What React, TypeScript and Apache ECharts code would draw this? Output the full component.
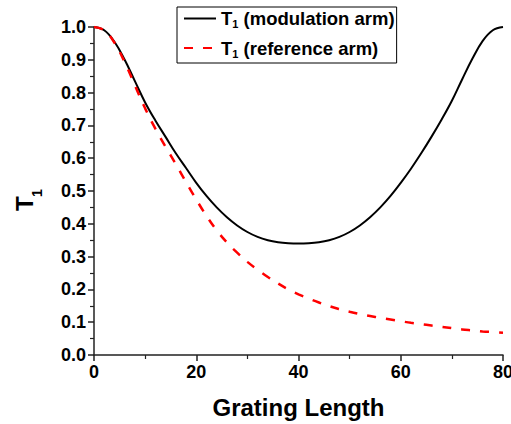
import React, { useEffect, useRef } from 'react';
import * as echarts from 'echarts';

const lengths = [0, 2, 4, 6, 8, 10, 12, 14, 16, 18, 20, 22, 24, 26, 28, 30, 32, 34, 36, 38, 40,
  42, 44, 46, 48, 50, 52, 54, 56, 58, 60, 62, 64, 66, 68, 70, 72, 74, 76, 78, 80];

const modulationArm = [1.0, 0.99, 0.955, 0.9, 0.835, 0.77, 0.715, 0.665, 0.615, 0.57, 0.525, 0.485, 0.45, 0.42, 0.395, 0.375, 0.36, 0.35, 0.344, 0.341, 0.34,
  0.341, 0.344, 0.35, 0.36, 0.375, 0.395, 0.42, 0.45, 0.485, 0.525, 0.568, 0.615, 0.665, 0.718, 0.775, 0.84, 0.903, 0.957, 0.99, 1.0];

const referenceArm = [1.0, 0.99, 0.952, 0.893, 0.822, 0.752, 0.69, 0.635, 0.582, 0.527, 0.474, 0.424, 0.38, 0.343, 0.312, 0.284, 0.26, 0.238, 0.218, 0.2, 0.185,
  0.172, 0.16, 0.149, 0.14, 0.132, 0.125, 0.119, 0.113, 0.108, 0.103, 0.098, 0.094, 0.09, 0.086, 0.082, 0.078, 0.075, 0.072, 0.07, 0.068];

const seriesNames = ['T1 (modulation arm)', 'T1 (reference arm)'];
const xAxisTitle = 'Grating Length';
const yAxisTitleMain = 'T';
const yAxisTitleSub = '1';

const FONT = "'Liberation Sans', Arial, sans-serif";

export default function App() {
  const ref = useRef<HTMLDivElement>(null);
  useEffect(() => {
    document.body.style.margin = '0';
    if (!ref.current) return;
    const chart = echarts.init(ref.current, null, { renderer: 'svg' });
    const toPairs = (vals: number[]) => lengths.map((x, i) => [x, vals[i]]);
    const axisLine = { show: true, lineStyle: { color: '#222', width: 1.5 } };
    const labelStyle = { fontFamily: FONT, fontWeight: 'bold' as const, fontSize: 18, color: '#000' };
    chart.setOption({
      animation: false,
      grid: { left: 94, right: 8, top: 27, bottom: 69, containLabel: false, outerBoundsMode: 'none' },
      xAxis: {
        type: 'value', min: 0, max: 80, interval: 20,
        axisLine, splitLine: { show: false },
        axisTick: { show: true, length: 6, lineStyle: { color: '#222', width: 1.5 } },
        minorTick: { show: true, splitNumber: 2, length: 4, lineStyle: { color: '#222', width: 1.2 } },
        axisLabel: { ...labelStyle, margin: 8, hideOverlap: false },
      },
      yAxis: {
        type: 'value', min: 0, max: 1, interval: 0.1,
        axisLine, splitLine: { show: false },
        axisTick: { show: true, length: 6, lineStyle: { color: '#222', width: 1.5 } },
        minorTick: { show: true, splitNumber: 2, length: 4, lineStyle: { color: '#222', width: 1.2 } },
        axisLabel: { ...labelStyle, margin: 8, formatter: (v: number) => v.toFixed(1) },
      },
      legend: {
        left: 177, top: 7, orient: 'vertical',
        padding: [2, 2, 4, 6], itemGap: 9, itemWidth: 32, itemHeight: 14,
        borderColor: '#000', borderWidth: 1, borderRadius: 0,
        itemStyle: { opacity: 0 },
        data: seriesNames,
        formatter: (name: string) => '{t|T}{s|1}{t|' + name.slice(2) + '}',
        textStyle: {
          fontFamily: FONT, fontWeight: 'bold', fontSize: 18.5, color: '#000',
          rich: {
            t: { fontFamily: FONT, fontWeight: 'bold', fontSize: 18.5, lineHeight: 22, color: '#000' },
            s: { fontFamily: FONT, fontWeight: 'bold', fontSize: 11, lineHeight: 6, verticalAlign: 'bottom', color: '#000' },
          },
        },
      },
      graphic: [
        {
          type: 'text', x: 298.5, y: 407,
          style: { text: xAxisTitle, font: `bold 24px ${FONT}`, fill: '#000', align: 'center', verticalAlign: 'middle' },
        },
        {
          type: 'text', x: 24.4, y: 203.7, rotation: Math.PI / 2,
          style: { text: yAxisTitleMain, font: `bold 24px ${FONT}`, fill: '#000', align: 'center', verticalAlign: 'middle' },
        },
        {
          type: 'text', x: 36.7, y: 193, rotation: Math.PI / 2,
          style: { text: yAxisTitleSub, font: `bold 14px ${FONT}`, fill: '#000', align: 'center', verticalAlign: 'middle' },
        },
      ],
      series: [
        {
          name: seriesNames[0], type: 'line', data: toPairs(modulationArm),
          symbol: 'none', showSymbol: false, smooth: 0.4,
          lineStyle: { color: '#000', width: 2 }, itemStyle: { color: '#000' },
        },
        {
          name: seriesNames[1], type: 'line', data: toPairs(referenceArm),
          symbol: 'none', showSymbol: false, smooth: 0.4,
          lineStyle: { color: '#ff0000', width: 2.5, type: [9, 10] }, itemStyle: { color: '#ff0000' },
        },
      ],
    });
    return () => chart.dispose();
  }, []);
  return <div ref={ref} style={{ width: 511, height: 424 }} />;
}
